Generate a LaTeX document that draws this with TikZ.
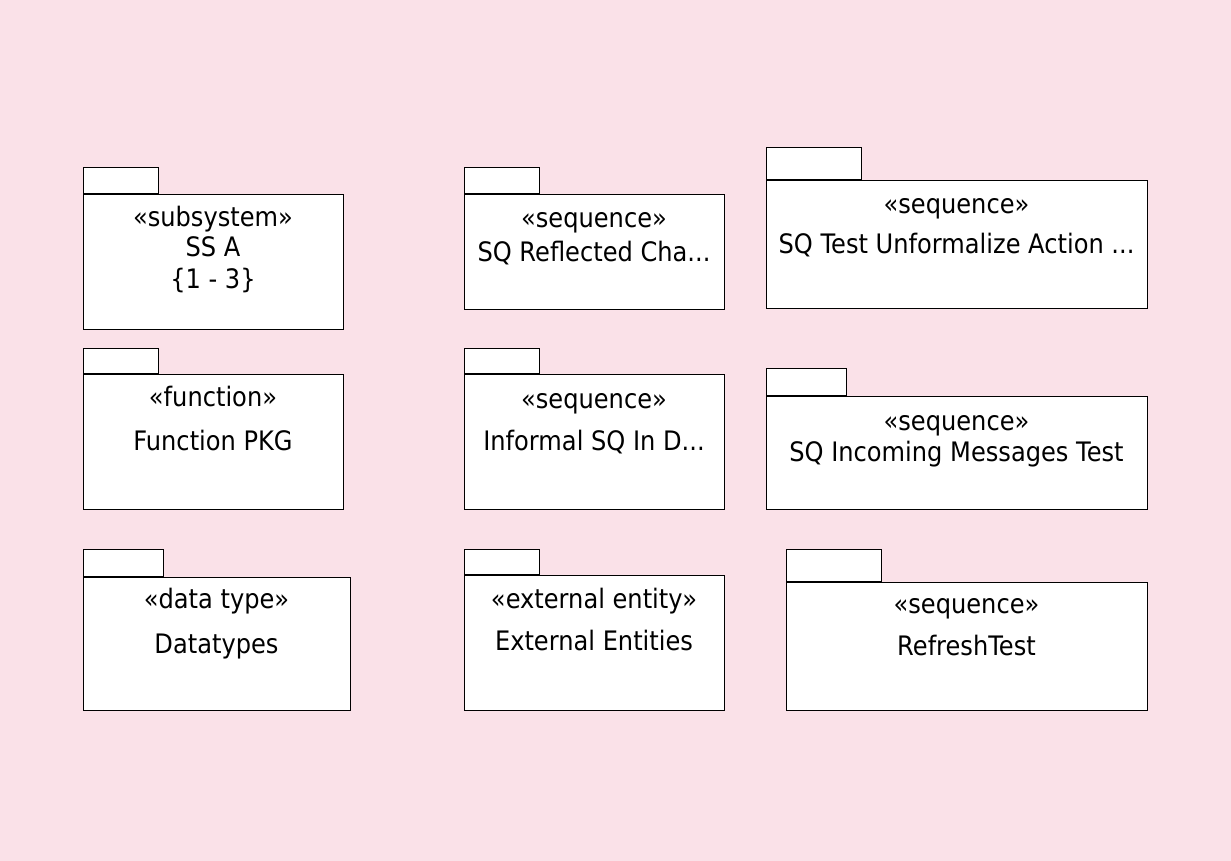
\documentclass[tikz,border=0pt]{standalone}
\usepackage{fontspec}
\setmainfont{DejaVu Sans}[FakeStretch=0.9]
\usepackage{tikz}

\definecolor{diagrambg}{RGB}{250,225,232}

\tikzset{
  pkgbody/.style={draw=black, fill=white, line width=0.8pt, anchor=north west, inner sep=0pt},
  pkgtab/.style={draw=black, fill=white, line width=0.8pt, anchor=south west, inner sep=0pt},
  pkgtext/.style={anchor=base, inner sep=0pt, font=\fontsize{26.8}{30}\selectfont}
}

\begin{document}
\begin{tikzpicture}[x=1pt,y=-1pt]
      \useasboundingbox[fill=diagrambg] (0,0) rectangle (1231,861);

      % first row
      \node[pkgbody, minimum width=260pt, minimum height=135pt] (ssa) at (83,194) {};
      \node[pkgtab, minimum width=75pt, minimum height=26pt] (ssatab) at (ssa.north west) {};
      \node[pkgtext] (ssast) at (213,226.5) {«subsystem»};
      \node[pkgtext] (ssaname) at (213,256.5) {SS A};
      \node[pkgtext] (ssamult) at (213,288) {\{1 - 3\}};

      \node[pkgbody, minimum width=260pt, minimum height=115pt] (refl) at (464,194) {};
      \node[pkgtab, minimum width=75pt, minimum height=26pt] (refltab) at (refl.north west) {};
      \node[pkgtext] (reflst) at (594,228) {«sequence»};
      \node[pkgtext] (reflname) at (594,261.5) {SQ Reflected Cha...};

      \node[pkgbody, minimum width=381pt, minimum height=128pt] (unf) at (766,180) {};
      \node[pkgtab, minimum width=95pt, minimum height=32pt] (unftab) at (unf.north west) {};
      \node[pkgtext] (unfst) at (956.5,213.5) {«sequence»};
      \node[pkgtext] (unfname) at (956.5,253.5) {SQ Test Unformalize Action ...};

      % second row
      \node[pkgbody, minimum width=260pt, minimum height=135pt] (func) at (83,374) {};
      \node[pkgtab, minimum width=75pt, minimum height=25pt] (functab) at (func.north west) {};
      \node[pkgtext] (funcst) at (213,406.5) {«function»};
      \node[pkgtext] (funcname) at (213,450) {Function PKG};

      \node[pkgbody, minimum width=260pt, minimum height=135pt] (inf) at (464,374) {};
      \node[pkgtab, minimum width=75pt, minimum height=25pt] (inftab) at (inf.north west) {};
      \node[pkgtext] (infst) at (594,408) {«sequence»};
      \node[pkgtext] (infname) at (594,450.5) {Informal SQ In D...};

      \node[pkgbody, minimum width=381pt, minimum height=113pt] (inc) at (766,396) {};
      \node[pkgtab, minimum width=80pt, minimum height=27pt] (inctab) at (inc.north west) {};
      \node[pkgtext] (incst) at (956.5,430) {«sequence»};
      \node[pkgtext] (incname) at (956.5,461.5) {SQ Incoming Messages Test};

      % third row
      \node[pkgbody, minimum width=267pt, minimum height=133pt] (dt) at (83,577) {};
      \node[pkgtab, minimum width=80pt, minimum height=27pt] (dttab) at (dt.north west) {};
      \node[pkgtext] (dtst) at (216.5,608.5) {«data type»};
      \node[pkgtext] (dtname) at (216.5,653) {Datatypes};

      \node[pkgbody, minimum width=260pt, minimum height=135pt] (ext) at (464,575) {};
      \node[pkgtab, minimum width=75pt, minimum height=25pt] (exttab) at (ext.north west) {};
      \node[pkgtext] (extst) at (594,608.5) {«external entity»};
      \node[pkgtext] (extname) at (594,650) {External Entities};

      \node[pkgbody, minimum width=361pt, minimum height=128pt] (ref) at (786,582) {};
      \node[pkgtab, minimum width=95pt, minimum height=32pt] (reftab) at (ref.north west) {};
      \node[pkgtext] (refst) at (966.5,613.5) {«sequence»};
      \node[pkgtext] (refname) at (966.5,655) {RefreshTest};
    \end{tikzpicture}
\end{document}
